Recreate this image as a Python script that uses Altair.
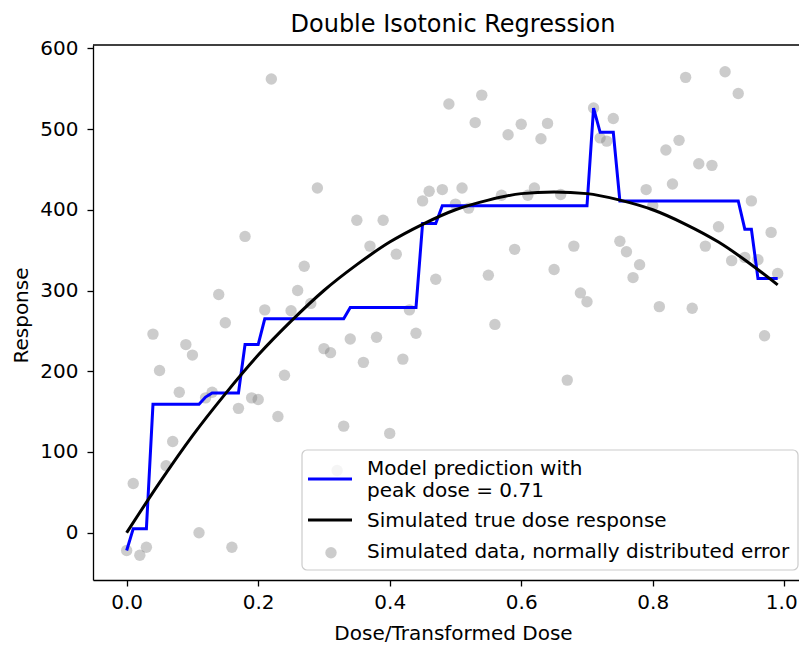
import altair as alt
import pandas as pd

# ---- data ----
dose = [round(i * 0.01, 2) for i in range(100)]

response = [
    -22, 61, -28, -18, 246, 201, 83, 113, 174, 233,
    220, 0, 167, 174, 295, 260, -18, 154, 367, 167,
    165, 276, 562, 144, 195, 275, 300, 330, 284, 427,
    228, 223, 77, 132, 240, 387, 211, 355, 242, 387,
    123, 345, 215, 276, 247, 411, 423, 314, 425, 531,
    407, 427, 402, 508, 542, 319, 258, 418, 493, 351,
    506, 418, 427, 488, 507, 326, 419, 189, 355, 297,
    286, 526, 489, 485, 513, 361, 348, 316, 332, 425,
    405, 280, 474, 432, 486, 564, 278, 457, 355, 455,
    379, 571, 337, 544, 341, 411, 338, 244, 372, 321,
]

model_fit = [
    -22, 5, 5, 5, 159, 159, 159, 159, 159, 159,
    159, 159, 168, 173, 173, 173, 173, 173, 233, 233,
    233, 265, 265, 265, 265, 265, 265, 265, 265, 265,
    265, 265, 265, 265, 279, 279, 279, 279, 279, 279,
    279, 279, 279, 279, 279, 383, 383, 383, 405, 405,
    405, 405, 405, 405, 405, 405, 405, 405, 405, 405,
    405, 405, 405, 405, 405, 405, 405, 405, 405, 405,
    405, 526, 496, 496, 496, 411, 411, 411, 411, 411,
    411, 411, 411, 411, 411, 411, 411, 411, 411, 411,
    411, 411, 411, 411, 376, 376, 315, 315, 315, 315,
]

true_dose = [0, 0.05, 0.10, 0.15, 0.20, 0.25, 0.30, 0.35, 0.40, 0.45, 0.50,
             0.55, 0.60, 0.65, 0.70, 0.75, 0.80, 0.85, 0.90, 0.95, 0.99]
true_resp = [0, 62, 120, 172, 220, 262, 300, 332, 360, 382, 400,
             412, 420, 422, 420, 412, 400, 382, 360, 332, 307]

x_ticks = [0.0, 0.2, 0.4, 0.6, 0.8, 1.0]
y_ticks = [0, 100, 200, 300, 400, 500, 600]

title_text = "Double Isotonic Regression"
legend_labels = [
    "Model prediction with\npeak dose = 0.71",
    "Simulated true dose response",
    "Simulated data, normally distributed error",
]

# ---- chart ----
W, H = 706, 535
FONT = "DejaVu Sans"

df_pts = pd.DataFrame({"dose": dose, "response": response})
df_fit = pd.DataFrame({"dose": dose, "fit": model_fit})
df_true = pd.DataFrame({"dose": true_dose, "resp": true_resp})

xscale = alt.Scale(domain=[-0.0512, 1.0224], nice=False, zero=False)
yscale = alt.Scale(domain=[-58.6, 604.1], nice=False, zero=False)

xaxis = alt.Axis(
    values=x_ticks, format=".1f", grid=False, tickSize=6, tickWidth=1.3,
    tickColor="black", domainColor="black", domainWidth=1.3,
    labelFontSize=20, labelFont=FONT, labelColor="black", labelPadding=6,
    labelFlush=False, labelOverlap=False,
    labelOffset={"condition": {"test": "datum.value >= 1", "value": -3}, "value": 0},
    title="Dose/Transformed Dose", titleFontSize=20, titleFont=FONT,
    titleFontWeight="normal", titleColor="black", titleX=360, titleY=59,
    titleBaseline="alphabetic", titleAlign="center",
)
yaxis = alt.Axis(
    values=y_ticks, grid=False, tickSize=6, tickWidth=1.3,
    tickColor="black", domainColor="black", domainWidth=1.3,
    labelFontSize=20, labelFont=FONT, labelColor="black", labelPadding=9,
    labelOverlap=False,
    title="Response", titleFontSize=20, titleFont=FONT,
    titleFontWeight="normal", titleColor="black", titleX=-66, titleY=270,
    titleAngle=270, titleBaseline="alphabetic", titleAlign="center",
)

points = alt.Chart(df_pts).mark_circle(size=130, color="gray", opacity=0.4).encode(
    x=alt.X("dose:Q", scale=xscale, axis=xaxis),
    y=alt.Y("response:Q", scale=yscale, axis=yaxis),
)

fit_line = alt.Chart(df_fit).mark_line(color="blue", strokeWidth=3).encode(
    x=alt.X("dose:Q", scale=xscale),
    y=alt.Y("fit:Q", scale=yscale),
)

true_line = alt.Chart(df_true).mark_line(color="black", strokeWidth=3, interpolate="monotone").encode(
    x=alt.X("dose:Q", scale=xscale),
    y=alt.Y("resp:Q", scale=yscale),
)

one = alt.Data(values=[{"k": 1}])

top_spine = alt.Chart(one).mark_rule(color="black", strokeWidth=1.3).encode(
    x=alt.value(0), x2=alt.value(W), y=alt.value(0)
)

title_mark = alt.Chart(one).mark_text(
    align="center", baseline="alphabetic", fontSize=24, font=FONT, color="black"
).encode(x=alt.value(360), y=alt.value(-13.3), text=alt.value(title_text))

leg_box = alt.Chart(one).mark_rect(
    fill="white", fillOpacity=0.8, stroke="#cccccc", strokeWidth=1.2, cornerRadius=5
).encode(x=alt.value(209), x2=alt.value(705), y=alt.value(405), y2=alt.value(525))

leg_blue = alt.Chart(one).mark_rule(color="blue", strokeWidth=3).encode(
    x=alt.value(215), x2=alt.value(259), y=alt.value(434)
)
leg_black = alt.Chart(one).mark_rule(color="black", strokeWidth=3).encode(
    x=alt.value(215), x2=alt.value(259), y=alt.value(475)
)
leg_dot = alt.Chart(one).mark_circle(size=130, color="gray", opacity=0.4).encode(
    x=alt.value(238), y=alt.value(507.7)
)

def leg_text(label, y):
    return alt.Chart(one).mark_text(
        align="left", baseline="alphabetic", fontSize=20, font=FONT,
        color="black", lineBreak="\n", lineHeight=22.3,
    ).encode(x=alt.value(274), y=alt.value(y), text=alt.value(label))

chart = alt.layer(
    points, fit_line, true_line, top_spine, title_mark,
    leg_box, leg_blue, leg_black, leg_dot,
    leg_text(legend_labels[0], 430),
    leg_text(legend_labels[1], 482.3),
    leg_text(legend_labels[2], 513.3),
).properties(
    width=W, height=H,
    autosize=alt.AutoSizeParams(type="none"),
    padding={"left": 85, "top": 37, "right": 0, "bottom": 66},
).configure_view(stroke=None)

chart.save("out.html", embed_options={"renderer": "svg", "actions": False})
